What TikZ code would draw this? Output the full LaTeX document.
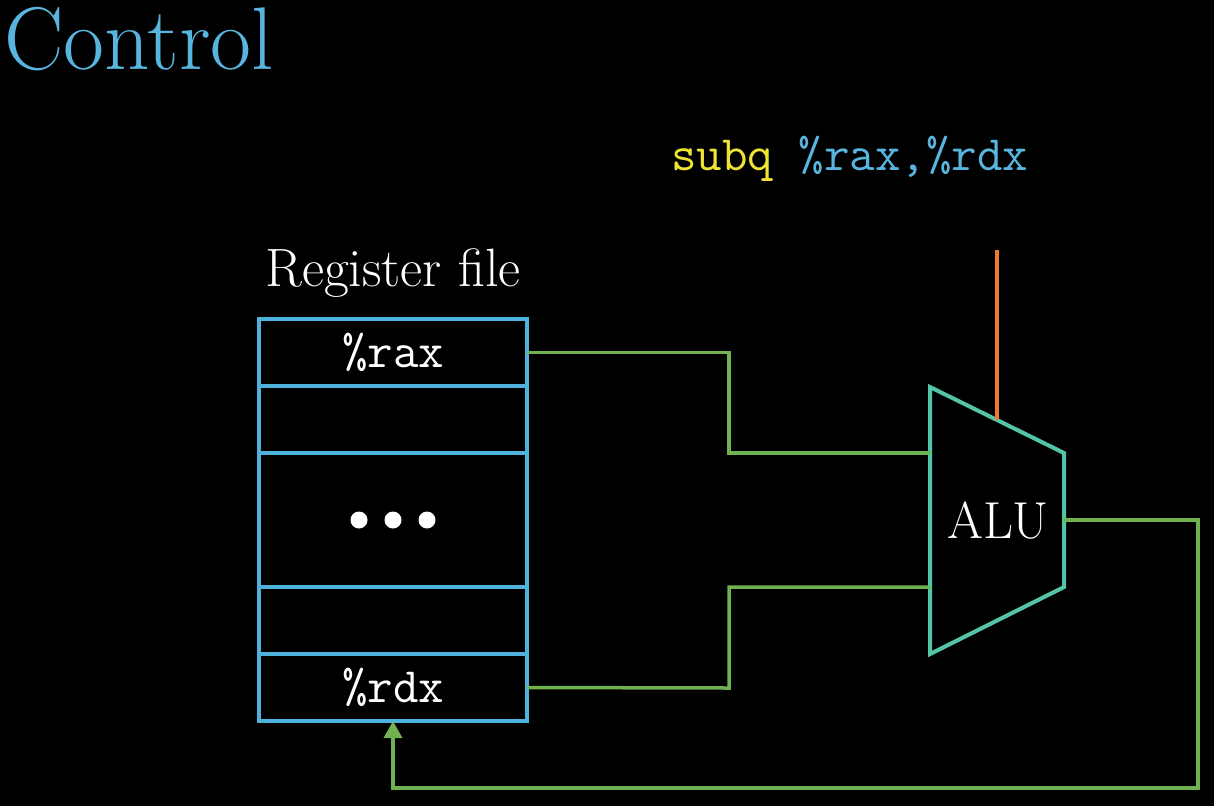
\documentclass[tikz,border=0pt]{standalone}
\usetikzlibrary{positioning, calc, arrows.meta}

\definecolor{titleblue}{RGB}{88,182,222}
\definecolor{regblue}{RGB}{78,178,222}
\definecolor{wiregreen}{RGB}{112,178,82}
\definecolor{alugreen}{RGB}{82,196,168}
\definecolor{ctlorange}{RGB}{238,122,48}
\definecolor{instyellow}{RGB}{238,228,52}

\begin{document}
\begin{tikzpicture}[
		x=1pt, y=-1pt,
		% --- ESTILOS ---
		reg/.style = {draw=regblue, line width=4pt, rectangle, minimum width=268pt, minimum height=67pt, inner sep=0pt, outer sep=0pt, text=white, font=\fontsize{49.5}{54}\selectfont\ttfamily},
		wire/.style = {draw=wiregreen, line width=3.5pt},
		>={Triangle[width=18pt, length=17pt]}
		]
		
		% --- FONDO ---
		\fill[black] (0,0) rectangle (1214,806);
		
		% --- TITULO E INSTRUCCION ---
		\node[anchor=base west, inner sep=0pt, text=titleblue, font=\fontsize{89}{96}\selectfont] (title) at (4,69) {Control};
		\node[anchor=base west, inner sep=0pt, font=\fontsize{49.5}{54}\selectfont\ttfamily] (inst) at (671,170) {\textcolor{instyellow}{subq} \textcolor{titleblue}{\%rax,\%rdx}};
		
		% --- BANCO DE REGISTROS ---
		\node[reg] (rax) at (393,352.5) {\%rax};
		\node[reg, below=0pt of rax] (r2) {};
		\node[reg, below=0pt of r2, minimum height=134pt] (dots) {};
		\node[reg, below=0pt of dots] (r4) {};
		\node[reg, below=0pt of r4] (rdx) {\%rdx};
		\node[anchor=base, inner sep=0pt, text=white, font=\fontsize{54}{60}\selectfont] (regfile) at (393,286) {Register file};
		
		\foreach \dx in {-34,0,34}
			\fill[white] ($(dots.center)+(\dx,0)$) circle (8.5);
		
		% --- ALU ---
		\coordinate (alu_tl) at (930,387);
		\coordinate (alu_bl) at (930,654);
		\coordinate (alu_tr) at (1064,453);
		\coordinate (alu_br) at (1064,587);
		\draw[alugreen, line width=4pt, line join=miter] (alu_tl) -- (alu_tr) -- (alu_br) -- (alu_bl) -- cycle;
		\node[text=white, font=\fontsize{52}{56}\selectfont] (alu) at (998,521) {ALU};
		
		\coordinate (alu_in1) at (930,453);
		\coordinate (alu_in2) at (930,587);
		\coordinate (alu_out) at (1064,520);
		\coordinate (alu_ctl) at ($(alu_tl)!0.5!(alu_tr)$);
		\coordinate (ctl_top) at (997,250);
		
		% --- CONEXIONES ---
		\draw[ctlorange, line width=4pt] (ctl_top) -- (alu_ctl);
		\draw[wire] (rax.east) -- (729,352.5) |- (alu_in1);
		\draw[wire] (rdx.east) -- (729,688) |- (alu_in2);
		\draw[wire, ->] (alu_out) -- (1198,520) |- (393,788) -- (rdx.south);
		
	\end{tikzpicture}
\end{document}
